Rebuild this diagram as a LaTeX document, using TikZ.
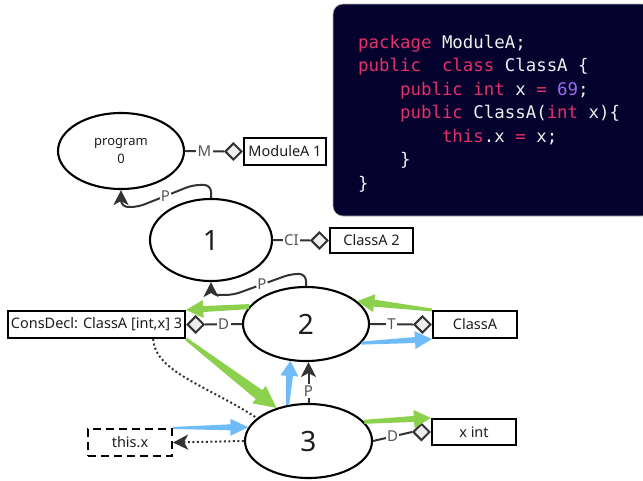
\documentclass[tikz,border=0pt]{standalone}
\usepackage{fontspec}
\setmainfont{Noto Sans}
\newfontfamily\codefont{DejaVu Sans Mono}
\usetikzlibrary{shapes.geometric,arrows.meta,calc}
\definecolor{codebg}{HTML}{05022E}
\definecolor{kwpink}{HTML}{E5306A}
\definecolor{numpurple}{HTML}{9A6AF2}
\definecolor{codewhite}{HTML}{F0F0F0}
\definecolor{dark}{HTML}{333333}
\definecolor{lblgray}{HTML}{555555}
\definecolor{txtdark}{HTML}{1E1E1E}
\definecolor{mgreen}{HTML}{8CD14E}
\definecolor{mblue}{HTML}{6FBCF8}
\definecolor{diafill}{HTML}{EEEEEE}
\newcommand\kw[1]{\textcolor{kwpink}{#1}}
\newcommand\numc[1]{\textcolor{numpurple}{#1}}
\newcommand\fatarw[7]{%
  \coordinate (fa-h) at ($(#3)!#7!(#2)$);
  \fill[#1] ($(#2)!#4!90:(#3)$) -- ($(fa-h)!#5!90:(#3)$) -- ($(fa-h)!#6!90:(#3)$) -- (#3)
    -- ($(fa-h)!#6!-90:(#3)$) -- ($(fa-h)!#5!-90:(#3)$) -- ($(#2)!#4!-90:(#3)$) -- cycle;}
\begin{document}
\begin{tikzpicture}[x=1pt,y=-1pt,
  ell/.style={ellipse, draw=black, line width=2.1pt, fill=white, inner sep=0pt, text=txtdark},
  bignum/.style={font=\fontsize{28}{30}\selectfont},
  box/.style={draw=black, line width=2.1pt, fill=white, minimum height=26pt, inner xsep=3pt, text=txtdark, font=\fontsize{14.5}{17}\selectfont},
  dia/.style={diamond, draw=dark, fill=diafill, line width=2pt, minimum width=17pt, minimum height=17pt, inner sep=0pt},
  conn/.style={draw=dark, line width=2pt},
  lbl/.style={fill=white, text=lblgray, inner sep=1.5pt, font=\fontsize{15}{15}\selectfont},
  darr/.style={draw=dark, line width=2pt, -{Stealth[length=15pt,width=15pt,inset=4pt]}},
  dotl/.style={draw=dark, line width=2pt, dash pattern=on 2pt off 2.5pt},
  code/.style={anchor=base west, inner sep=0pt, text=codewhite, font=\codefont\fontsize{17.4}{20}\selectfont}
]
\useasboundingbox (0,0) rectangle (643,480);
% code box
\path[fill=codebg, draw=gray!60, line width=0.6pt, rounded corners=10pt] (333,4) rectangle (652,216);
\node[code] (c1) at (358,48) {\kw{package} ModuleA;};
\node[code] (c2) at (358,71.5) {\kw{public}~~\kw{class} ClassA \{};
\node[code] (c3) at (358,95) {~~~~\kw{public} \kw{int} x \kw{=} \numc{69};};
\node[code] (c4) at (358,118.5) {~~~~\kw{public} ClassA(\kw{int} x)\{};
\node[code] (c5) at (358,142) {~~~~~~~~\kw{this}.x \kw{=} x;};
\node[code] (c6) at (358,165.5) {~~~~\}};
\node[code] (c7) at (358,189) {\}};

% ellipses
\node[ell, minimum width=126pt, minimum height=76pt, align=center, font=\fontsize{13}{18}\selectfont] (e0) at (121,151) {program\\0};
\node[ell, bignum, minimum width=122pt, minimum height=82pt] (e1) at (211,240) {1};
\node[ell, bignum, minimum width=126pt, minimum height=74pt] (e2) at (306,324) {2};
\node[ell, bignum, minimum width=127pt, minimum height=74pt] (e3) at (308.5,441) {3};

% boxes
\node[box, minimum width=82pt, minimum height=27pt] (modA) at (285,151.5) {ModuleA 1};
\node[box, minimum width=83pt, minimum height=25pt] (cls2) at (371.5,240.5) {ClassA 2};
\node[box, minimum width=177pt, minimum height=27pt] (cons) at (96.5,324.5) {ConsDecl: ClassA [int,x] 3};
\node[box, minimum width=84pt, minimum height=27pt] (clsA) at (475,324.5) {ClassA};
\node[box, minimum width=84pt, minimum height=26pt] (xint) at (474,432) {x int};
\node[box, minimum width=84pt, minimum height=27pt, dash pattern=on 8pt off 5pt] (thisx) at (130,442.5) {this.x};

% diamonds
\node[dia, anchor=east] (dM) at (modA.west) {};
\node[dia, anchor=east] (dC) at (cls2.west) {};
\node[dia, anchor=west] (dD1) at (cons.east) {};
\node[dia, anchor=east] (dT) at (clsA.west) {};
\node[dia, anchor=east] (dD2) at (xint.west) {};

% labelled connectors
\draw[conn] (e0.east) -- node[lbl]{M} (dM.west);
\draw[conn] (e1.east) -- node[lbl]{CI} (dC.west);
\draw[conn] (dD1.east) -- node[lbl]{D} (e2.west);
\draw[conn] (e2.east) -- node[lbl]{T} (dT.west);
\draw[conn] (e3.east) -- node[lbl]{D} (dD2.west);

% parent arrows
\draw[darr, rounded corners=7pt] (e1.north) -- ++(0,-13) -- ++(-18,0) -- node[lbl]{P} ++(-55,22) -- ++(-17,0) -- (e0.south);
\draw[darr, rounded corners=7pt] (e2.north) -- ++(0,-12) -- ++(-15,0) -- node[lbl]{P} ++(-58,21) -- ++(-22,0) -- (e1.south);
\draw[darr] (e3.north) -- node[lbl, pos=0.3]{P} (e3.north |- e2.south);

% dotted
\draw[dotl] ([xshift=-33pt]cons.south east) .. controls (155,372) and (208,386) .. (e3.156);
\draw[dotl, -{Stealth[length=15pt,width=15pt,inset=4pt]}] (e3.west) -- (thisx.east);

% fat arrows
\fatarw{mgreen}{clsA.north west}{e2.24}{1.5pt}{3.5pt}{9pt}{17pt}
\fatarw{mgreen}{e2.163}{cons.north east}{2.5pt}{3pt}{9pt}{17pt}
\fatarw{mgreen}{cons.south east}{e3.134}{1.5pt}{5.5pt}{11pt}{22pt}
\fatarw{mgreen}{e3.19}{xint.north west}{2pt}{3pt}{9pt}{17pt}
\fatarw{mblue}{e3.120}{e2.-113}{1.5pt}{3.5pt}{9pt}{15pt}
\fatarw{mblue}{e2.-19}{clsA.south west}{1.5pt}{3pt}{9pt}{17pt}
\fatarw{mblue}{thisx.north east}{e3.167}{1pt}{3pt}{8.5pt}{18pt}
\end{tikzpicture}
\end{document}
